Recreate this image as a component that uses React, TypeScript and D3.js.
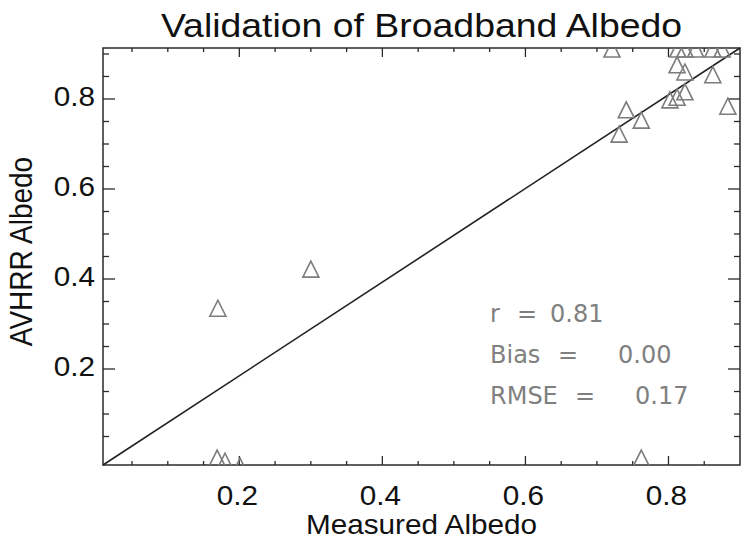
import React from 'react';
import * as d3 from 'd3';

const W = 741, H = 540;
const PLOT = { left: 103, right: 740, top: 48, bottom: 465 };

// axis extents
const X_DOMAIN = [0.0094, 0.9];
const Y_DOMAIN = [-0.0133, 0.9133];

const MAJOR_TICKS = [0.2, 0.4, 0.6, 0.8];
const X_MINOR = [0.05, 0.1, 0.15, 0.25, 0.3, 0.35, 0.45, 0.5, 0.55, 0.65, 0.7, 0.75, 0.85];
const Y_MINOR = [0.05, 0.1, 0.15, 0.25, 0.3, 0.35, 0.45, 0.5, 0.55, 0.65, 0.7, 0.75, 0.85, 0.9];

// measured vs AVHRR broadband albedo
const MEASURED = [
  0.170, 0.300, 0.169, 0.180, 0.201, 0.762,
  0.721, 0.741, 0.762, 0.731, 0.802, 0.812, 0.823,
  0.812, 0.823, 0.862, 0.883,
  0.813, 0.823, 0.838, 0.862, 0.875,
];
const AVHRR = [
  0.335, 0.422, 0.002, -0.005, -0.016, 0.002,
  0.911, 0.776, 0.753, 0.722, 0.798, 0.804, 0.816,
  0.876, 0.860, 0.854, 0.784,
  0.911, 0.911, 0.911, 0.911, 0.911,
];

// statistics block: name, "=" and value each placed on its own
const STAT_NAMES = ['r', 'Bias', 'RMSE'];
const STAT_VALUES = ['0.81', '0.00', '0.17'];
const STAT_EQ_X = [517, 558, 575];
const STAT_VAL_X = [550, 618, 635];

const AXIS = '#2a2a2a';
const MARK = '#7c7c7c';
const FONT = '"Liberation Sans", Arial, Helvetica, sans-serif';

export default function App() {
  const x = d3.scaleLinear().domain(X_DOMAIN).range([PLOT.left, PLOT.right]);
  const y = d3.scaleLinear().domain(Y_DOMAIN).range([PLOT.bottom, PLOT.top]);

  const tri = 'M0,-8L8,8L-8,8Z';
  const oneToOne = d3.line<number[]>()
    .x(d => x(d[0]))
    .y(d => y(d[1]))([[X_DOMAIN[0], Y_DOMAIN[0]], [X_DOMAIN[1], Y_DOMAIN[1]]]);

  const cx = (PLOT.left + PLOT.right) / 2;
  const cy = (PLOT.top + PLOT.bottom) / 2;

  return (
    <svg width={W} height={H} style={{ position: 'absolute', left: 0, top: 0, background: '#fff' }}
      fontFamily={FONT}>
      <defs>
        <clipPath id="plot-clip">
          <rect x={PLOT.left} y={PLOT.top} width={PLOT.right - PLOT.left} height={PLOT.bottom - PLOT.top} />
        </clipPath>
      </defs>

      {/* title */}
      <text transform={`translate(${cx},37) scale(1.1,1)`} textAnchor="middle" fontSize={34} fill="#111">
        Validation of Broadband Albedo
      </text>

      {/* frame */}
      <rect x={PLOT.left} y={PLOT.top} width={PLOT.right - PLOT.left} height={PLOT.bottom - PLOT.top}
        fill="none" stroke={AXIS} strokeWidth={1.5} />

      {/* x ticks, bottom and top */}
      {MAJOR_TICKS.concat(X_MINOR).map(v => {
        const len = MAJOR_TICKS.includes(v) ? 9 : 4;
        return (
          <g key={'xt' + v} stroke={AXIS} strokeWidth={1.3}>
            <line x1={x(v)} x2={x(v)} y1={PLOT.bottom} y2={PLOT.bottom - len} />
            <line x1={x(v)} x2={x(v)} y1={PLOT.top} y2={PLOT.top + len} />
          </g>
        );
      })}
      {/* y ticks, left and right */}
      {MAJOR_TICKS.concat(Y_MINOR).map(v => {
        const len = MAJOR_TICKS.includes(v) ? 12 : 6;
        return (
          <g key={'yt' + v} stroke={AXIS} strokeWidth={1.3}>
            <line x1={PLOT.left} x2={PLOT.left + len} y1={y(v)} y2={y(v)} />
            <line x1={PLOT.right} x2={PLOT.right - len} y1={y(v)} y2={y(v)} />
          </g>
        );
      })}

      {/* tick labels */}
      {MAJOR_TICKS.map(v => (
        <text key={'xl' + v} transform={`translate(${x(v) - 2},505) scale(1.1,1)`} textAnchor="middle"
          fontSize={27} fill="#111">{d3.format('.1f')(v)}</text>
      ))}
      {MAJOR_TICKS.map(v => (
        <text key={'yl' + v} transform={`translate(95,${y(v) + 7}) scale(1.1,1)`} textAnchor="end"
          fontSize={27} fill="#111">{d3.format('.1f')(v)}</text>
      ))}

      {/* axis titles */}
      <text transform={`translate(${cx},534) scale(1.1,1)`} textAnchor="middle" fontSize={27} fill="#111">
        Measured Albedo
      </text>
      <text transform={`translate(32,${cy - 5}) rotate(-90) scale(1,1.1)`} textAnchor="middle"
        fontSize={28} fill="#111">
        AVHRR Albedo
      </text>

      {/* 1:1 line */}
      <path d={oneToOne || ''} fill="none" stroke="#222" strokeWidth={1.6} />

      {/* points */}
      <g clipPath="url(#plot-clip)">
        {MEASURED.map((m, i) => (
          <path key={'p' + i} d={tri} transform={`translate(${x(m)},${y(AVHRR[i])})`}
            fill="none" stroke={MARK} strokeWidth={1.6} strokeLinejoin="miter" />
        ))}
      </g>

      {/* statistics */}
      <g fontFamily='"DejaVu Sans ExtraLight", "DejaVu Sans", sans-serif' fontSize={24} fill="#808080">
        {STAT_NAMES.map((name, i) => (
          <g key={'s' + i}>
            <text x={490} y={322 + i * 41}>{name}</text>
            <text x={STAT_EQ_X[i]} y={322 + i * 41}>=</text>
            <text x={STAT_VAL_X[i]} y={322 + i * 41}>{STAT_VALUES[i]}</text>
          </g>
        ))}
      </g>
    </svg>
  );
}
